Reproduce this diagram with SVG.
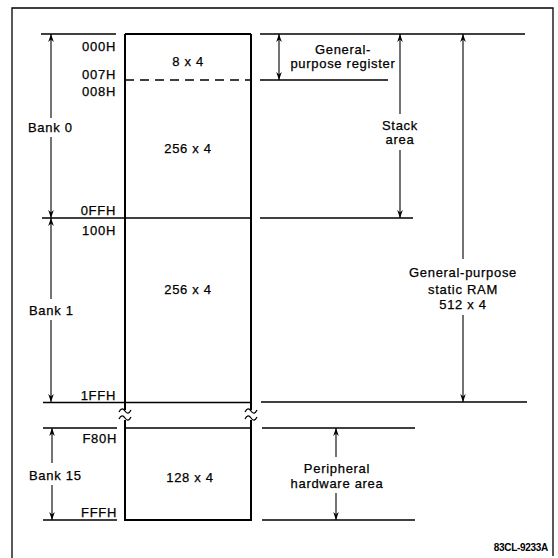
<svg xmlns="http://www.w3.org/2000/svg" width="558" height="558" viewBox="0 0 558 558">
<defs>
<marker id="ah" viewBox="0 0 10 10" refX="10" refY="5" markerWidth="10" markerHeight="8" markerUnits="userSpaceOnUse" orient="auto">
<path d="M0,1.5 L10,5 L0,8.5 L3,5 Z" fill="#000"/>
</marker>
</defs>
<style>
text{font-family:"Liberation Sans",Arial,sans-serif;font-size:13px;letter-spacing:0.7px;fill:#000;stroke:#000;stroke-width:0.25}
.r{text-anchor:end}
.m{text-anchor:middle}
.ln{stroke:#000;stroke-width:1.3;fill:none}
.bx{stroke:#000;stroke-width:2;fill:none}
.ar{stroke:#000;stroke-width:1.1;fill:none;marker-end:url(#ah)}
.id{font-size:10px;font-weight:bold;letter-spacing:-0.3px;stroke-width:0}
</style>
<rect width="558" height="558" fill="#fff"/>
<path d="M12,558 L12,8 L553,8 L553,556" class="ln"/>

<g id="memory-map">
<path class="bx" d="M125,34 L251,34 M125,34 L125,410 M251,34 L251,410 M125,420 L125,520 L251,520 L251,420"/>
<path class="ln" d="M119,412 c2,-4 4,-4 6,-1 s4,3 6,-1 M119,419 c2,-4 4,-4 6,-1 s4,3 6,-1"/>
<path class="ln" d="M245,412 c2,-4 4,-4 6,-1 s4,3 6,-1 M245,419 c2,-4 4,-4 6,-1 s4,3 6,-1"/>
<line x1="125" y1="80" x2="251" y2="80" stroke="#000" stroke-width="1.5" stroke-dasharray="9,6"/>
<line class="ln" x1="125" y1="218" x2="251" y2="218"/>
<line class="ln" x1="125" y1="402.5" x2="251" y2="402.5"/>
<line class="ln" x1="125" y1="428" x2="251" y2="428"/>
</g>

<g id="cell-labels">
<text class="m" x="188" y="66">8 x 4</text>
<text class="m" x="188" y="153">256 x 4</text>
<text class="m" x="188" y="294">256 x 4</text>
<text class="m" x="190" y="482">128 x 4</text>
</g>

<g id="addresses">
<text class="r" x="116" y="51">000H</text>
<text class="r" x="116" y="79">007H</text>
<text class="r" x="116" y="96">008H</text>
<text class="r" x="116" y="215">0FFH</text>
<text class="r" x="116" y="235">100H</text>
<text class="r" x="116" y="400">1FFH</text>
<text class="r" x="117" y="443">F80H</text>
<text class="r" x="117" y="517">FFFH</text>
</g>

<g id="bank-labels">
<text x="28" y="132">Bank 0</text>
<text x="29" y="315">Bank 1</text>
<text x="29" y="480">Bank 15</text>
</g>

<g id="right-labels">
<text class="m" x="343" y="54">General-</text>
<text class="m" x="343" y="68">purpose register</text>
<text class="m" x="400" y="130">Stack</text>
<text class="m" x="400" y="144">area</text>
<text class="m" x="463" y="277">General-purpose</text>
<text class="m" x="463" y="294">static RAM</text>
<text class="m" x="463" y="309">512 x 4</text>
<text class="m" x="337" y="473">Peripheral</text>
<text class="m" x="337" y="488">hardware area</text>
<text class="r id" x="548" y="551">83CL-9233A</text>
</g>

<g id="connectors">
<line class="ln" x1="41" y1="34" x2="116" y2="34"/>
<line class="ln" x1="42" y1="218" x2="125" y2="218"/>
<line class="ln" x1="43" y1="402.5" x2="125" y2="402.5"/>
<line class="ln" x1="43" y1="428" x2="117" y2="428"/>
<line class="ln" x1="43" y1="520" x2="117" y2="520"/>
<line class="ln" x1="260" y1="34" x2="525" y2="34"/>
<line class="ln" x1="260" y1="80" x2="388" y2="80"/>
<line class="ln" x1="260" y1="218" x2="413" y2="218"/>
<line class="ln" x1="261" y1="402" x2="527" y2="402"/>
<line class="ln" x1="262" y1="428" x2="415" y2="428"/>
<line class="ln" x1="262" y1="520" x2="415" y2="520"/>

<line class="ar" x1="51" y1="118" x2="51" y2="34"/>
<line class="ar" x1="51" y1="137" x2="51" y2="218"/>
<line class="ar" x1="51" y1="299" x2="51" y2="218"/>
<line class="ar" x1="51" y1="320" x2="51" y2="402"/>
<line class="ar" x1="52" y1="463" x2="52" y2="428"/>
<line class="ar" x1="52" y1="485" x2="52" y2="520"/>
<line class="ar" x1="279" y1="57" x2="279" y2="34"/>
<line class="ar" x1="279" y1="57" x2="279" y2="80"/>
<line class="ar" x1="400" y1="114" x2="400" y2="34"/>
<line class="ar" x1="400" y1="150" x2="400" y2="218"/>
<line class="ar" x1="463" y1="259" x2="463" y2="34"/>
<line class="ar" x1="463" y1="315" x2="463" y2="402"/>
<line class="ar" x1="336" y1="457" x2="336" y2="428"/>
<line class="ar" x1="336" y1="493" x2="336" y2="520"/>
</g>
</svg>
